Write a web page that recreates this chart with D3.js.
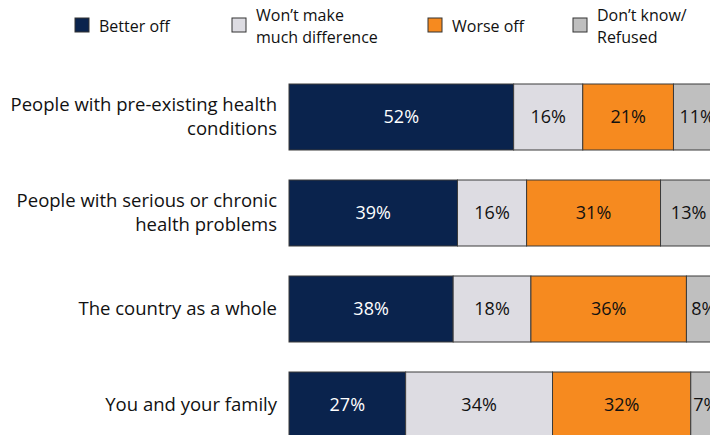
<!DOCTYPE html>
<html>
<head>
<meta charset="utf-8">
<script src="https://cdn.jsdelivr.net/npm/d3@7"></script>
<style>
  body { margin: 0; background: #fff; }
  svg text { font-family: "Open Sans", sans-serif; }
</style>
</head>
<body>
<script>
// chart data
const categories = [
  ["People with pre-existing health", "conditions"],
  ["People with serious or chronic", "health problems"],
  ["The country as a whole"],
  ["You and your family"]
];
const seriesNames = [["Better off"], ["Won\u2019t make", "much difference"], ["Worse off"], ["Don\u2019t know/", "Refused"]];
const betterOff = [52, 39, 38, 27];
const noDifference = [16, 16, 18, 34];
const worseOff = [21, 31, 36, 32];
const dontKnow = [11, 13, 8, 7];

const colors = ["#0A234D", "#DDDCE2", "#F68A1F", "#BFBFBF"];
const textColors = ["#fff", "#111", "#111", "#111"];

const svg = d3.select("body").append("svg")
  .attr("width", 710)
  .attr("height", 435);

const x = d3.scaleLinear().domain([0, 100]).range([289, 721]);
const y = d3.scaleBand().domain(d3.range(categories.length))
  .range([84, 438]).paddingInner(0.3125).paddingOuter(0);

const rows = categories.map((c, i) => [betterOff[i], noDifference[i], worseOff[i], dontKnow[i]]);

// bars
rows.forEach((vals, i) => {
  let start = 0;
  vals.forEach((v, j) => {
    svg.append("rect")
      .attr("x", x(start))
      .attr("y", y(i))
      .attr("width", x(start + v) - x(start))
      .attr("height", y.bandwidth())
      .attr("fill", colors[j])
      .attr("stroke", "#3a3a3a")
      .attr("stroke-width", 1);
    svg.append("text")
      .attr("x", (x(start) + x(start + v)) / 2)
      .attr("y", y(i) + y.bandwidth() / 2)
      .attr("dy", "0.35em")
      .attr("text-anchor", "middle")
      .attr("font-size", 18)
      .attr("fill", textColors[j])
      .text(v + "%");
    start += v;
  });
});

// category labels
categories.forEach((lines, i) => {
  const cy = y(i) + y.bandwidth() / 2;
  const t = svg.append("text")
    .attr("text-anchor", "end")
    .attr("font-size", 18.5)
    .attr("fill", "#111");
  lines.forEach((l, k) => {
    t.append("tspan")
      .attr("x", 277)
      .attr("y", cy + (k - (lines.length - 1) / 2) * 24)
      .attr("dy", "0.35em")
      .text(l);
  });
});

// legend
const legendX = [75, 232, 428, 573];
seriesNames.forEach((lines, j) => {
  svg.append("rect")
    .attr("x", legendX[j])
    .attr("y", 18)
    .attr("width", 14)
    .attr("height", 14)
    .attr("fill", colors[j])
    .attr("stroke", "#333")
    .attr("stroke-width", 1);
  const t = svg.append("text")
    .attr("font-size", 16)
    .attr("fill", "#111");
  lines.forEach((l, k) => {
    t.append("tspan")
      .attr("x", legendX[j] + 24)
      .attr("y", 26 + (k - (lines.length - 1) / 2) * 22)
      .attr("dy", "0.35em")
      .text(l);
  });
});
</script>
</body>
</html>
